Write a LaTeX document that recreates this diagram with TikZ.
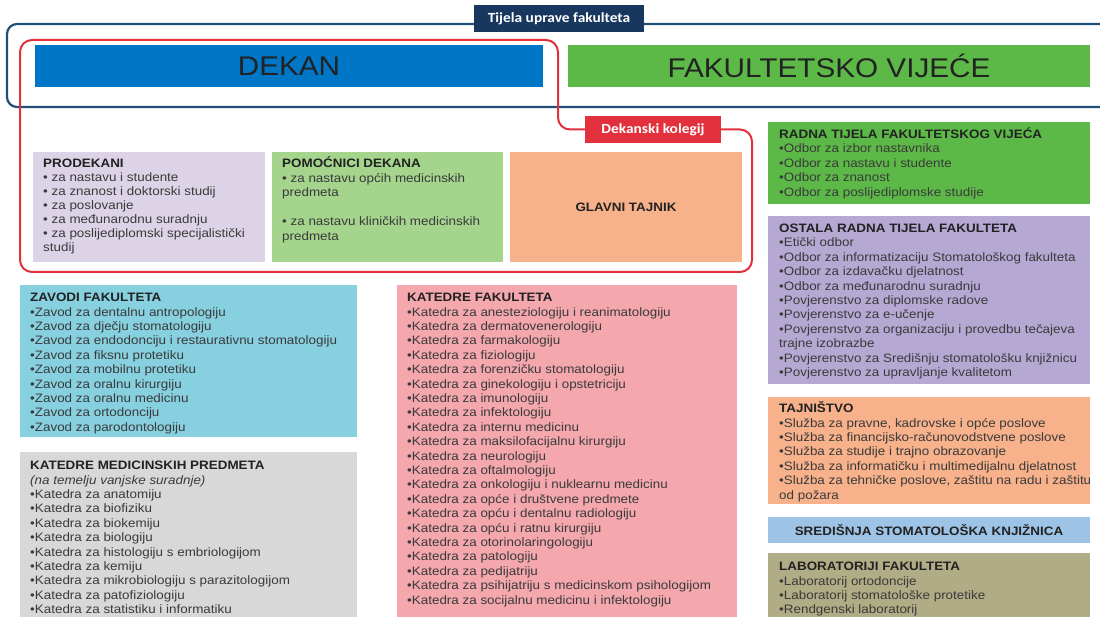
\documentclass[tikz,border=0pt]{standalone}
\usepackage{fontspec}
\setmainfont[FakeStretch=1.1]{Liberation Sans}
\newfontfamily\narrowfont[FakeStretch=1.1]{Carlito}
\usetikzlibrary{positioning}

\definecolor{UpravaBlue}{HTML}{1F4E79}
\definecolor{UpravaNavy}{HTML}{17375E}
\definecolor{DekanBlue}{HTML}{0076C6}
\definecolor{VijeceGreen}{HTML}{5CB947}
\definecolor{KolegijRed}{HTML}{E2313C}
\definecolor{ProdLilac}{HTML}{DDD3E6}
\definecolor{PomGreen}{HTML}{A5D48D}
\definecolor{TajPeach}{HTML}{F7B18B}
\definecolor{OstLilac}{HTML}{B5A9D4}
\definecolor{ZavCyan}{HTML}{87D0E0}
\definecolor{MedGray}{HTML}{D8D8D8}
\definecolor{KatPink}{HTML}{F4A8AE}
\definecolor{KnjBlue}{HTML}{9DC3E6}
\definecolor{LabOlive}{HTML}{B0AC85}
\definecolor{TxtGray}{HTML}{3A3A3A}
\definecolor{HeadGray}{HTML}{222222}

\newcommand{\hd}[1]{{\color{HeadGray}\bfseries #1}}
% naslov liste, s istom visinom prvog retka
\newcommand{\lt}[1]{\rule{0pt}{13pt}\hd{#1}}

\tikzset{
	panel/.style 2 args={anchor=north west, inner sep=0pt, outer sep=0pt, minimum width=#1, minimum height=#2},
	listtext/.style={anchor=north west, align=left, inner sep=0pt, text=TxtGray, font=\fontsize{12.2}{14.4}\selectfont},
	tag/.style={inner sep=0pt, text=white, font=\narrowfont\bfseries\fontsize{14}{14}\selectfont},
	bigtitle/.style={text=HeadGray, font=\fontsize{27}{27}\selectfont}
}

\begin{document}
\begin{tikzpicture}[x=1pt,y=-1pt]
		\useasboundingbox (0,0) rectangle (1100,617);
		
		% tijela uprave
		\draw[UpravaBlue, line width=2.2pt, rounded corners=10pt] (7,24) rectangle (1120,107);
		\node[panel={508pt}{42pt}, fill=DekanBlue, bigtitle] (dekan) at (35,45) {DEKAN};
		\node[panel={522pt}{42pt}, fill=VijeceGreen, bigtitle] (vijece) at (568,45) {FAKULTETSKO VIJEĆE};
		\node[tag, fill=UpravaNavy, minimum width=170pt, minimum height=27pt] (uprava) at (559,18.5) {Tijela uprave fakulteta};
		
		% dekanski kolegij
		\node[panel={232pt}{110pt}, fill=ProdLilac] (prodekani) at (33,152) {};
		\node[panel={231pt}{110pt}, fill=PomGreen] (pomocnici) at (272,152) {};
		\node[panel={232pt}{110pt}, fill=TajPeach, font=\fontsize{12.2}{14}\selectfont] (tajnik) at (510,152) {\hd{GLAVNI TAJNIK}};
		\node[listtext, font=\fontsize{12.2}{14}\selectfont] (prodekanitxt) at ([xshift=10pt,yshift=-2.4pt]prodekani.north west)
			{\lt{PRODEKANI}\\ • za nastavu i studente\\ • za znanost i doktorski studij\\ • za poslovanje\\ • za međunarodnu suradnju\\ • za poslijediplomski specijalistički\\ studij};
		\node[listtext, font=\fontsize{12.2}{14.5}\selectfont] (pomocnicitxt) at ([xshift=10pt,yshift=-2.4pt]pomocnici.north west)
			{\lt{POMOĆNICI DEKANA}\\ • za nastavu općih medicinskih\\ predmeta\\[14.5pt] • za nastavu kliničkih medicinskih\\ predmeta};
		
		\node[tag, fill=KolegijRed, minimum width=136pt, minimum height=27pt] (kolegij) at (653,129.5) {Dekanski kolegij};
		\draw[KolegijRed, line width=2pt, rounded corners=12pt] (kolegij.east) -- (752,129.5) -- (752,272) -- (20,272) -- (20,40) -- (558,40) -- (558,129.5) -- (kolegij.west);
		
		% desni stupac
		\node[panel={322pt}{82pt}, fill=VijeceGreen] (radna) at (768,122) {};
		\node[listtext] (radnatxt) at ([xshift=11pt,yshift=-3.4pt]radna.north west)
			{\lt{RADNA TIJELA FAKULTETSKOG VIJEĆA}\\ •Odbor za izbor nastavnika\\ •Odbor za nastavu i studente\\ •Odbor za znanost\\ •Odbor za poslijediplomske studije};
		
		\node[panel={322pt}{168pt}, fill=OstLilac] (ostala) at (768,216) {};
		\node[listtext] (ostalatxt) at ([xshift=11pt,yshift=-3.4pt]ostala.north west)
			{\lt{OSTALA RADNA TIJELA FAKULTETA}\\ •Etički odbor\\ •Odbor za informatizaciju Stomatološkog fakulteta\\ •Odbor za izdavačku djelatnost\\ •Odbor za međunarodnu suradnju\\ •Povjerenstvo za diplomske radove\\ •Povjerenstvo za e-učenje\\ •Povjerenstvo za organizaciju i provedbu tečajeva\\ trajne izobrazbe\\ •Povjerenstvo za Središnju stomatološku knjižnicu\\ •Povjerenstvo za upravljanje kvalitetom};
		
		\node[panel={322pt}{107pt}, fill=TajPeach] (tajnistvo) at (768,397) {};
		\node[listtext] (tajnistvotxt) at ([xshift=11pt,yshift=-2.4pt]tajnistvo.north west)
			{\lt{TAJNIŠTVO}\\ •Služba za pravne, kadrovske i opće poslove\\ •Služba za financijsko-računovodstvene poslove\\ •Služba za studije i trajno obrazovanje\\ •Služba za informatičku i multimedijalnu djelatnost\\ •Služba za tehničke poslove, zaštitu na radu i zaštitu\\ od požara};
		
		\node[panel={322pt}{26pt}, fill=KnjBlue, font=\fontsize{12.2}{14}\selectfont] (knjiznica) at (768,517) {\hd{SREDIŠNJA STOMATOLOŠKA KNJIŽNICA}};
		
		\node[panel={322pt}{70pt}, fill=LabOlive] (lab) at (768,553) {};
		\node[listtext] (labtxt) at ([xshift=11pt,yshift=-4.4pt]lab.north west)
			{\lt{LABORATORIJI FAKULTETA}\\ •Laboratorij ortodoncije\\ •Laboratorij stomatološke protetike\\ •Rendgenski laboratorij};
		
		% zavodi i katedre
		\node[panel={337pt}{152pt}, fill=ZavCyan] (zavodi) at (20,285) {};
		\node[listtext] (zavoditxt) at ([xshift=10pt,yshift=-3.4pt]zavodi.north west)
			{\lt{ZAVODI FAKULTETA}\\ •Zavod za dentalnu antropologiju\\ •Zavod za dječju stomatologiju\\ •Zavod za endodonciju i restaurativnu stomatologiju\\ •Zavod za fiksnu protetiku\\ •Zavod za mobilnu protetiku\\ •Zavod za oralnu kirurgiju\\ •Zavod za oralnu medicinu\\ •Zavod za ortodonciju\\ •Zavod za parodontologiju};
		
		\node[panel={337pt}{170pt}, fill=MedGray] (katmed) at (20,452) {};
		\node[listtext] (katmedtxt) at ([xshift=10pt,yshift=-4.4pt]katmed.north west)
			{\lt{KATEDRE MEDICINSKIH PREDMETA}\\ \textit{(na temelju vanjske suradnje)}\\ •Katedra za anatomiju\\ •Katedra za biofiziku\\ •Katedra za biokemiju\\ •Katedra za biologiju\\ •Katedra za histologiju s embriologijom\\ •Katedra za kemiju\\ •Katedra za mikrobiologiju s parazitologijom\\ •Katedra za patofiziologiju\\ •Katedra za statistiku i informatiku};
		
		\node[panel={340pt}{337pt}, fill=KatPink] (katfak) at (397,285) {};
		\node[listtext] (katfaktxt) at ([xshift=10pt,yshift=-3.4pt]katfak.north west)
			{\lt{KATEDRE FAKULTETA}\\ •Katedra za anesteziologiju i reanimatologiju\\ •Katedra za dermatovenerologiju\\ •Katedra za farmakologiju\\ •Katedra za fiziologiju\\ •Katedra za forenzičku stomatologiju\\ •Katedra za ginekologiju i opstetriciju\\ •Katedra za imunologiju\\ •Katedra za infektologiju\\ •Katedra za internu medicinu\\ •Katedra za maksilofacijalnu kirurgiju\\ •Katedra za neurologiju\\ •Katedra za oftalmologiju\\ •Katedra za onkologiju i nuklearnu medicinu\\ •Katedra za opće i društvene predmete\\ •Katedra za opću i dentalnu radiologiju\\ •Katedra za opću i ratnu kirurgiju\\ •Katedra za otorinolaringologiju\\ •Katedra za patologiju\\ •Katedra za pedijatriju\\ •Katedra za psihijatriju s medicinskom psihologijom\\ •Katedra za socijalnu medicinu i infektologiju};
		
\end{tikzpicture}
\end{document}
